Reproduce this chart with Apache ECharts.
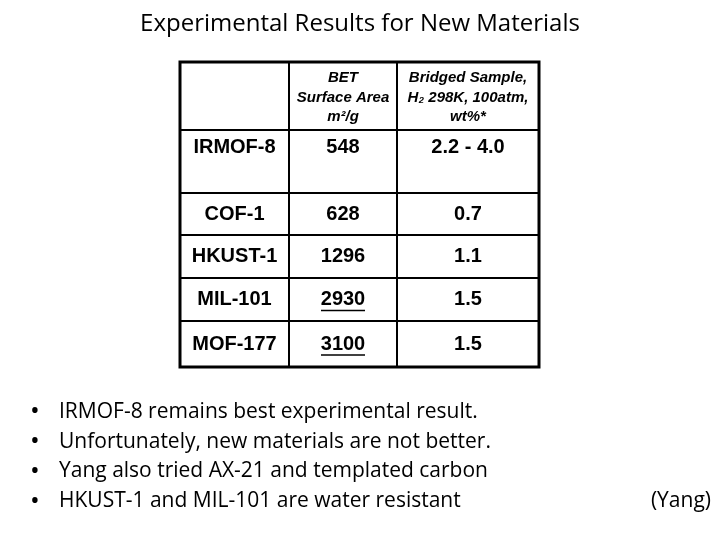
<!DOCTYPE html>
<html><head><meta charset="utf-8">
<script src="https://cdn.jsdelivr.net/npm/echarts@6/dist/echarts.min.js"></script>
<style>html,body{margin:0;padding:0;background:#fff}#c{width:720px;height:540px}</style>
</head><body><div id="c"></div>
<script>
var title = 'Experimental Results for New Materials';
var headers = [['BET','Surface Area','m²/g'],['Bridged Sample,','H₂ 298K, 100atm,','wt%*']];
var materials = ['IRMOF-8','COF-1','HKUST-1','MIL-101','MOF-177'];
var betArea = ['548','628','1296','2930','3100'];
var h2wt = ['2.2 - 4.0','0.7','1.1','1.5','1.5'];
var betUnderlined = [false,false,false,true,true];
var bullets = ['IRMOF-8 remains best experimental result.','Unfortunately, new materials are not better.','Yang also tried AX-21 and templated carbon','HKUST-1 and MIL-101 are water resistant'];
var source = '(Yang)';

var L=180,R=539,T=62,B=367, colX=[L,289,397,R], rowY=[T,130,193,235,278,321,B];
var g=[];
g.push({type:'rect',shape:{x:L,y:T,width:R-L,height:B-T},style:{fill:'none',stroke:'#000',lineWidth:3}});
for(var i=1;i<3;i++) g.push({type:'line',shape:{x1:colX[i],y1:T,x2:colX[i],y2:B},style:{stroke:'#000',lineWidth:2}});
for(var j=1;j<rowY.length-1;j++) g.push({type:'line',shape:{x1:L,y1:rowY[j],x2:R,y2:rowY[j]},style:{stroke:'#000',lineWidth:2}});
var hf='italic bold 15px "Liberation Sans"';
headers.forEach(function(h,ci){
  var cx=(colX[ci+1]+colX[ci+2])/2;
  h.forEach(function(t,k){g.push({type:'text',x:cx,y:78+k*19.5,style:{text:t,font:hf,fill:'#000',align:'center',verticalAlign:'middle'}});});
});
var bf='bold 20px "Liberation Sans"';
materials.forEach(function(m,r){
  var y=(r===0)?147:(rowY[r+1]+rowY[r+2])/2;
  var vals=[m,betArea[r],h2wt[r]];
  vals.forEach(function(v,ci){
    var cx=(colX[ci]+colX[ci+1])/2;
    g.push({type:'text',x:cx,y:y,style:{text:v,font:bf,fill:'#000',align:'center',verticalAlign:'middle'}});
  });
  if(betUnderlined[r]){var cx=(colX[1]+colX[2])/2;g.push({type:'line',shape:{x1:cx-22,y1:y+11,x2:cx+22,y2:y+11},style:{stroke:'#000',lineWidth:1.5}});}
});
g.push({type:'text',x:360,y:24,style:{text:title,font:'24px "Open Sans"',fill:'#000',align:'center',verticalAlign:'middle'}});
bullets.forEach(function(b,k){
  var y=412+k*29.7;
  g.push({type:'text',x:30,y:y,style:{text:'•',font:'26px "Open Sans"',fill:'#000',align:'left',verticalAlign:'middle'}});
  g.push({type:'text',x:59,y:y,style:{text:b,font:'21px "Open Sans"',fill:'#000',align:'left',verticalAlign:'middle'}});
});
g.push({type:'text',x:711,y:501,style:{text:source,font:'21px "Open Sans"',fill:'#000',align:'right',verticalAlign:'middle'}});
var chart=echarts.init(document.getElementById('c'));
chart.setOption({animation:false,graphic:g});
</script></body></html>
